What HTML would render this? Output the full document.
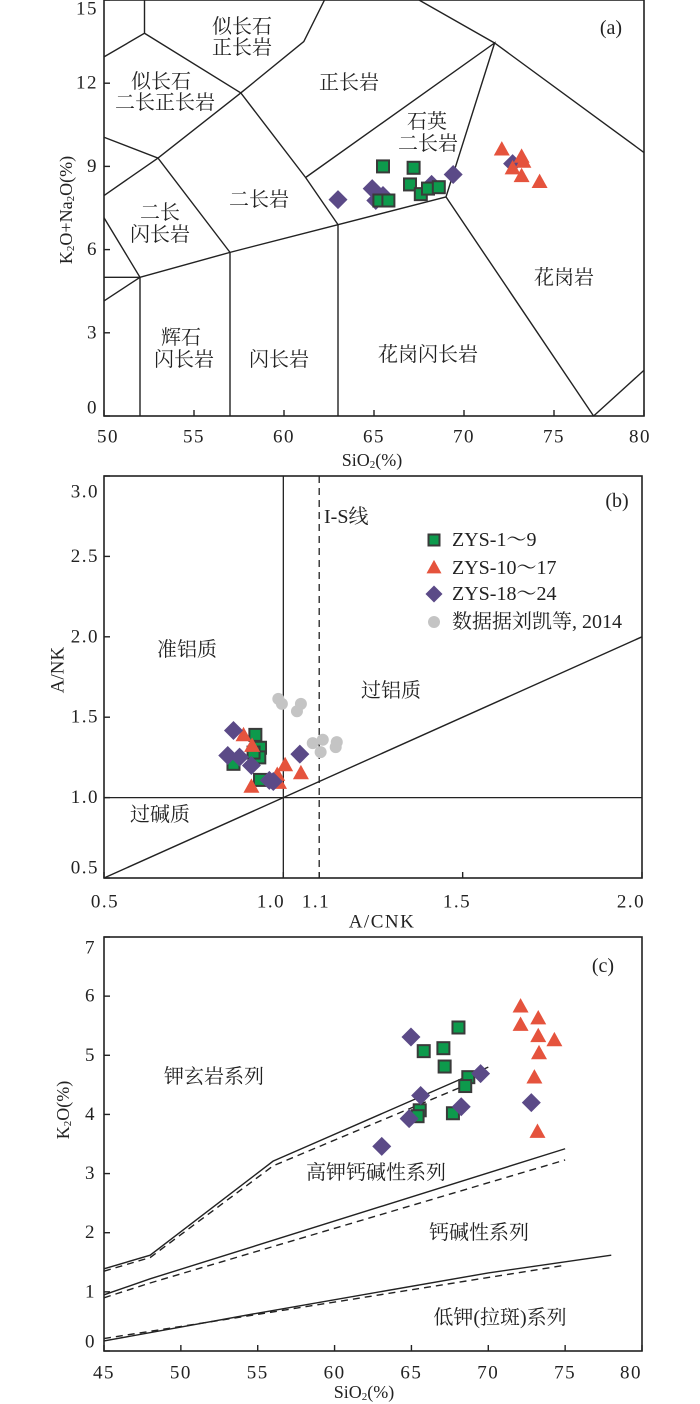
<!DOCTYPE html>
<html><head><meta charset="utf-8"><style>
html,body{margin:0;padding:0;background:#fff;}
svg{display:block;}
text{font-family:"Liberation Serif","Noto Serif CJK SC",serif;fill:#222;}
.cn{font-family:"Liberation Serif","Noto Serif CJK SC","Noto Sans CJK SC",serif;font-size:20px;}
.tick{font-size:19px;letter-spacing:1.5px;}
</style></head><body>
<svg id="fig" width="700" height="1404" viewBox="0 0 700 1404" xmlns="http://www.w3.org/2000/svg">
<g id="pa"></g>
<g id="pb"></g>
<g id="pc"></g>
</svg>
<script>
// ---------- Panel (a) data ----------
const aSquaresX=[65.5,67.2,67.0,67.6,68.0,68.6,65.3,65.8];
const aSquaresY=[9.0,8.95,8.35,8.0,8.2,8.25,7.77,7.77];
const aTrianglesX=[72.1,73.2,73.3,72.7,73.2,74.2];
const aTrianglesY=[9.6,9.34,9.16,8.92,8.64,8.43];
const aDiamondsX=[63.0,64.9,65.1,65.5,68.2,69.4,72.7];
const aDiamondsY=[7.8,8.2,7.77,7.95,8.35,8.71,9.1];
const aXTicks=[50,55,60,65,70,75,80];
const aYTicks=[0,3,6,9,12,15];
const aBoundaries=[
 [[52.25,15],[52.25,13.8],[50,12.95]],
 [[52.25,13.8],[57.6,11.65],[53.0,9.3],[50,7.95]],
 [[50,10.05],[53.0,9.3],[57.0,5.9]],
 [[62.25,15],[61.1,13.5],[57.6,11.65],[61.2,8.6],[63.0,6.9]],
 [[61.2,8.6],[71.7,13.45],[69.0,7.9],[77.2,0]],
 [[67.5,15],[71.7,13.45],[80,9.5]],
 [[77.2,0],[80,1.65]],
 [[50,7.15],[52,5],[57,5.9],[63,6.9],[69,7.9]],
 [[50,5],[52,5]],[[52,5],[50,4.15]],
 [[52,5],[52,0]],[[57,5.9],[57,0]],[[63,6.9],[63,0]]
];
// ---------- Panel (b) data ----------
const bSquaresX=[0.922,0.935,0.933,0.861,0.935,0.917];
const bSquaresY=[1.39,1.31,1.25,1.21,1.11,1.28];
const bTrianglesX=[0.889,0.913,0.911,0.983,1.005,0.988,1.049];
const bTrianglesY=[1.386,1.32,1.066,1.14,1.2,1.09,1.15];
const bDiamondsX=[0.861,0.845,0.878,0.911,0.961,0.972,1.046];
const bDiamondsY=[1.417,1.262,1.252,1.20,1.107,1.10,1.27];
const bCirclesX=[0.986,0.996,1.049,1.038,1.082,1.11,1.104,1.149,1.146];
const bCirclesY=[1.614,1.583,1.583,1.537,1.339,1.36,1.283,1.345,1.314];
const bXTicks=[0.5,1.0,1.1,1.5,2.0];
const bYTicks=[0.5,1.0,1.5,2.0,2.5,3.0];
// ---------- Panel (c) data ----------
const cSquaresX=[68.06,65.8,67.08,67.16,68.7,68.5,65.54,65.4,67.7];
const cSquaresY=[5.47,5.07,5.12,4.81,4.63,4.48,4.07,3.97,4.02];
const cTrianglesX=[72.1,72.1,73.25,73.25,74.3,73.3,73.0,73.2];
const cTrianglesY=[5.82,5.51,5.62,5.32,5.25,5.03,4.62,3.70];
const cDiamondsX=[64.97,65.6,64.85,63.07,69.5,68.24,72.8];
const cDiamondsY=[5.31,4.32,3.93,3.46,4.69,4.13,4.2];
const cXTicks=[45,50,55,60,65,70,75,80];
const cYTicks=[0,1,2,3,4,5,6,7];
const cSolid=[[[45,1.39],[48,1.62],[56,3.21],[70,4.8]],[[45,0.95],[48,1.22],[75,3.42]],[[45,0.17],[55,0.64],[70,1.32],[78,1.62]]];
const cDashed=[[[45,1.35],[48,1.58],[56,3.13],[68.3,4.47]],[[45,0.9],[48,1.15],[75,3.23]],[[45,0.21],[55,0.62],[75,1.45]]];

const NS="http://www.w3.org/2000/svg";
function mk(parent,tag,attrs,name,txt){
 const e=document.createElementNS(NS,tag);
 for(const k in attrs)e.setAttribute(k,attrs[k]);
 
 
 if(txt!==undefined)e.textContent=txt;
 parent.appendChild(e);return e;
}
const GREEN='#0d9a4c',RED='#e5533d',PURP='#5b4a87',GREY='#c4c4c4';
function square(g,x,y,s){return mk(g,'rect',{x:x-s/2,y:y-s/2,width:s,height:s,fill:GREEN,stroke:'#3a3a3a','stroke-width':2},'square-marker');}
function tri(g,x,y,s){const h=s*0.9;return mk(g,'polygon',{points:`${x},${y-h*0.6} ${x-s/2},${y+h*0.4} ${x+s/2},${y+h*0.4}`,fill:RED},'triangle-marker');}
function dia(g,x,y,s){const r=s/2;return mk(g,'polygon',{points:`${x},${y-r} ${x+r},${y} ${x},${y+r} ${x-r},${y}`,fill:PURP},'diamond-marker');}
function circ(g,x,y,r){return mk(g,'circle',{cx:x,cy:y,r:r,fill:GREY},'grey-circle-marker');}
function poly(g,pts,sx,sy,dash,name){
 const a={points:pts.map(p=>sx(p[0])+','+sy(p[1])).join(' '),fill:'none',stroke:'#222','stroke-width':1.4};
 if(dash)a['stroke-dasharray']='7,5';
 return mk(g,'polyline',a,name);
}
function frame(g,L,R,T,B){mk(g,'rect',{x:L,y:T,width:R-L,height:B-T,fill:'none',stroke:'#222','stroke-width':1.6},'plot-frame');}
function label(g,x,y,t,name,anchor,cls){return mk(g,'text',{x:x,y:y,'text-anchor':anchor||'middle','dominant-baseline':'central',class:cls||'cn'},name,t);}

// ===== Panel A =====
(function(){
 const g=document.getElementById('pa');
 const L=104,R=644,T=0,B=416;
 const sx=v=>L+(v-50)/30*(R-L), sy=v=>B-(v)/15*(B-T);
 aBoundaries.forEach(b=>poly(g,b,sx,sy,false,'rock-field-boundary'));
 frame(g,L,R,T,B);
 aXTicks.forEach(t=>{mk(g,'line',{x1:sx(t),x2:sx(t),y1:B,y2:B-6,stroke:'#222','stroke-width':1.4},'x-tick');
  label(g,t===80?sx(t)-4:(t===50?sx(t)+4:sx(t)),437,t,'x-tick-label','middle','tick');});
 aYTicks.forEach(t=>{mk(g,'line',{x1:L,x2:L+6,y1:sy(t),y2:sy(t),stroke:'#222','stroke-width':1.4},'y-tick');
  label(g,98,t===15?9:(t===0?408:sy(t)),t,'y-tick-label','end','tick');});
 const xt=mk(g,'text',{x:372,y:460,'text-anchor':'middle','dominant-baseline':'central','font-size':18},'x-axis-title');
 xt.innerHTML='SiO<tspan font-size="11" dy="5">2</tspan><tspan dy="-5">(%)</tspan>';
 const yt=mk(g,'text',{x:0,y:0,'text-anchor':'middle','dominant-baseline':'central','font-size':18,transform:'translate(66,210) rotate(-90)'},'y-axis-title');
 yt.innerHTML='K<tspan font-size="11" dy="5">2</tspan><tspan dy="-5">O+Na</tspan><tspan font-size="11" dy="5">2</tspan><tspan dy="-5">O(%)</tspan>';
 const labs=[[242,27,'似长石'],[242,48,'正长岩'],[161,82,'似长石'],[165,103,'二长正长岩'],[349,83,'正长岩'],[427,122,'石英'],[428,144,'二长岩'],[259,200,'二长岩'],[160,213,'二长'],[160,235,'闪长岩'],[181,338,'辉石'],[184,360,'闪长岩'],[279,360,'闪长岩'],[428,355,'花岗闪长岩'],[564,278,'花岗岩']];
 labs.forEach(l=>label(g,l[0],l[1],l[2],'field-label'));
 label(g,611,28,'(a)','panel-label');
 aDiamondsX.forEach((x,i)=>dia(g,sx(x),sy(aDiamondsY[i]),19));
 aSquaresX.forEach((x,i)=>square(g,sx(x),sy(aSquaresY[i]),12));
 aTrianglesX.forEach((x,i)=>tri(g,sx(x),sy(aTrianglesY[i]),16));
})();

// ===== Panel B =====
(function(){
 const g=document.getElementById('pb');
 const L=104,R=642,T=476,B=878;
 const sx=v=>L+(v-0.5)/1.5*(R-L), sy=v=>B-(v-0.5)/2.5*(B-T);
 mk(g,'line',{x1:sx(1),x2:sx(1),y1:T,y2:B,stroke:'#222','stroke-width':1.3},'acnk-1-line');
 mk(g,'line',{x1:sx(1.1),x2:sx(1.1),y1:T,y2:B,stroke:'#222','stroke-width':1.3,'stroke-dasharray':'7,5'},'i-s-line');
 mk(g,'line',{x1:L,x2:R,y1:sy(1),y2:sy(1),stroke:'#222','stroke-width':1.3},'ank-1-line');
 mk(g,'line',{x1:sx(0.5),x2:sx(2),y1:sy(0.5),y2:sy(2),stroke:'#222','stroke-width':1.4},'diagonal-line');
 frame(g,L,R,T,B);
 const xl=[105,271,316,457,631];
 bXTicks.forEach((t,i)=>{mk(g,'line',{x1:sx(t),x2:sx(t),y1:B,y2:B-6,stroke:'#222','stroke-width':1.4},'x-tick');
  label(g,xl[i],902,t.toFixed(1),'x-tick-label','middle','tick');});
 bYTicks.forEach(t=>{mk(g,'line',{x1:L,x2:L+6,y1:sy(t),y2:sy(t),stroke:'#222','stroke-width':1.4},'y-tick');
  label(g,99,t===3?492:(t===0.5?868:sy(t)),t.toFixed(1),'y-tick-label','end','tick');});
 label(g,382,922,'A/CNK','x-axis-title','middle','tick');
 mk(g,'text',{x:0,y:0,'text-anchor':'middle','dominant-baseline':'central','font-size':19,transform:'translate(58,670) rotate(-90)'},'y-axis-title','A/NK');
 label(g,187,650,'准铝质','field-label');
 label(g,391,691,'过铝质','field-label');
 label(g,160,815,'过碱质','field-label');
 label(g,324,517,'I-S线','is-line-label','start');
 label(g,617,501,'(b)','panel-label');
 bCirclesX.forEach((x,i)=>circ(g,sx(x),sy(bCirclesY[i]),6));
 bSquaresX.forEach((x,i)=>square(g,sx(x),sy(bSquaresY[i]),12));
 bTrianglesX.forEach((x,i)=>tri(g,sx(x),sy(bTrianglesY[i]),16));
 bDiamondsX.forEach((x,i)=>dia(g,sx(x),sy(bDiamondsY[i]),19));
 const lg=mk(g,'g',{},'legend');
 square(lg,434,540,11);label(lg,452,540,'ZYS-1～9','legend-entry','start');
 tri(lg,434,568,15);label(lg,452,568,'ZYS-10～17','legend-entry','start');
 dia(lg,434,594,17);label(lg,452,594,'ZYS-18～24','legend-entry','start');
 circ(lg,434,622,6);label(lg,452,622,'数据据刘凯等, 2014','legend-entry','start');
})();

// ===== Panel C =====
(function(){
 const g=document.getElementById('pc');
 const L=104,R=642,T=937,B=1351;
 const sx=v=>L+(v-45)/35*(R-L), sy=v=>B-v/7*(B-T);
 cSolid.forEach(l=>poly(g,l,sx,sy,false,'series-boundary-solid'));
 cDashed.forEach(l=>poly(g,l,sx,sy,true,'series-boundary-dashed'));
 frame(g,L,R,T,B);
 cXTicks.forEach(t=>{mk(g,'line',{x1:sx(t),x2:sx(t),y1:B,y2:B-6,stroke:'#222','stroke-width':1.4},'x-tick');
  label(g,t===80?631:sx(t),1373,t,'x-tick-label','middle','tick');});
 cYTicks.forEach(t=>{mk(g,'line',{x1:L,x2:L+6,y1:sy(t),y2:sy(t),stroke:'#222','stroke-width':1.4},'y-tick');
  label(g,96,t===7?948:(t===0?1342:sy(t)),t,'y-tick-label','end','tick');});
 const xt=mk(g,'text',{x:364,y:1392,'text-anchor':'middle','dominant-baseline':'central','font-size':18},'x-axis-title');
 xt.innerHTML='SiO<tspan font-size="11" dy="5">2</tspan><tspan dy="-5">(%)</tspan>';
 const yt=mk(g,'text',{x:0,y:0,'text-anchor':'middle','dominant-baseline':'central','font-size':18,transform:'translate(63,1110) rotate(-90)'},'y-axis-title');
 yt.innerHTML='K<tspan font-size="11" dy="5">2</tspan><tspan dy="-5">O(%)</tspan>';
 label(g,214,1077,'钾玄岩系列','series-label');
 label(g,376,1173,'高钾钙碱性系列','series-label');
 label(g,479,1233,'钙碱性系列','series-label');
 label(g,500,1318,'低钾(拉斑)系列','series-label');
 label(g,603,966,'(c)','panel-label');
 cSquaresX.forEach((x,i)=>square(g,sx(x),sy(cSquaresY[i]),12));
 cDiamondsX.forEach((x,i)=>dia(g,sx(x),sy(cDiamondsY[i]),19));
 cTrianglesX.forEach((x,i)=>tri(g,sx(x),sy(cTrianglesY[i]),16));
})();
</script>
</body></html>
